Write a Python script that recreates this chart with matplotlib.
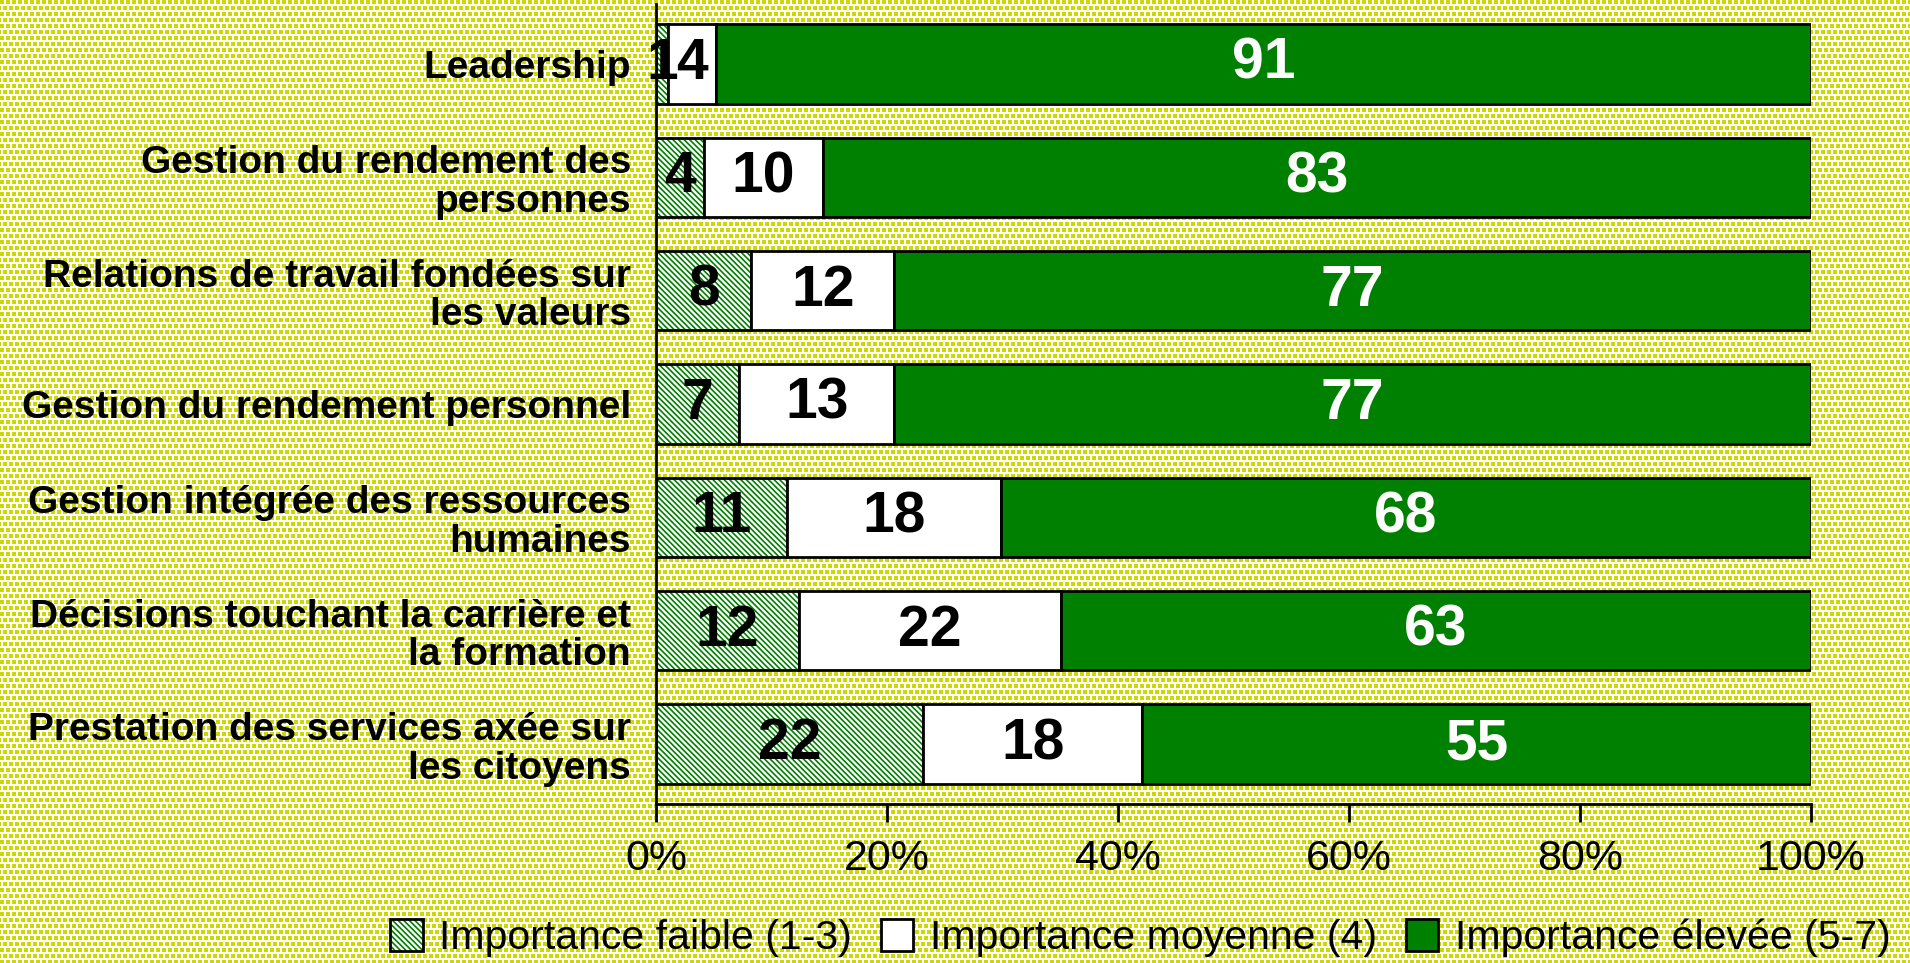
import matplotlib
matplotlib.use("Agg")
import matplotlib.pyplot as plt
from matplotlib.patches import Patch
from matplotlib.legend_handler import HandlerTuple
import numpy as np

plt.rcParams['font.family'] = ['Liberation Sans', 'DejaVu Sans']
plt.rcParams['hatch.linewidth'] = 1.2

categories = ["Leadership",
              "Gestion du rendement des\npersonnes",
              "Relations de travail fondées sur\nles valeurs",
              "Gestion du rendement personnel",
              "Gestion intégrée des ressources\nhumaines",
              "Décisions touchant la carrière et\nla formation",
              "Prestation des services axée sur\nles citoyens"]
low = [1, 4, 8, 7, 11, 12, 22]
mid = [4, 10, 12, 13, 18, 22, 18]
high = [91, 83, 77, 77, 68, 63, 55]
series_labels = ["Importance faible (1-3)", "Importance moyenne (4)", "Importance élevée (5-7)"]
xticks = [0, 20, 40, 60, 80, 100]

green = "#008000"
W, H = 1910, 963
fig = plt.figure(figsize=(W / 100, H / 100), dpi=100)

# dotted yellow paper texture behind everything
tex = np.ones((H, W, 3))
yy, xx = np.mgrid[0:H, 0:W]
shift = (yy // 6) % 2 * 3
dots = ((xx + shift) % 6 < 4) & (yy % 6 < 4)
tex[dots] = np.array([206, 216, 0]) / 255.0
fig.figimage(tex, xo=0, yo=0, zorder=-10)
fig.patch.set_alpha(0)

ax = fig.add_axes([0.3435, 0.165, 0.6045, 0.831])
ax.patch.set_alpha(0)

low_a = np.array(low, float)
mid_a = np.array(mid, float)
high_a = np.array(high, float)
tot = low_a + mid_a + high_a
lp = low_a / tot * 100
mp = mid_a / tot * 100
hp = high_a / tot * 100
y = np.arange(len(categories))
h = 0.7
hatch = "\\\\\\\\\\\\"

ax.barh(y, lp, h, color="white", edgecolor=green, hatch=hatch, linewidth=0)
ax.barh(y, lp, h, color="none", edgecolor="black", linewidth=2)
ax.barh(y, mp, h, left=lp, color="white", edgecolor="black", linewidth=2)
ax.barh(y, hp, h, left=lp + mp, color=green, edgecolor="black", linewidth=2)

for i in range(len(categories)):
    ax.text(lp[i] / 2, y[i], str(low[i]), ha="center", va="center",
            fontsize=41, fontweight="bold", color="black")
    ax.text(lp[i] + mp[i] / 2, y[i], str(mid[i]), ha="center", va="center",
            fontsize=41, fontweight="bold", color="black")
    ax.text(lp[i] + mp[i] + hp[i] / 2, y[i], str(high[i]), ha="center", va="center",
            fontsize=41, fontweight="bold", color="white")

ax.set_xlim(0, 100)
ax.set_ylim(6.53, -0.53)
ax.set_yticks(y)
ax.set_yticklabels(categories, fontsize=28, fontweight="bold", linespacing=1.1)
ax.tick_params(axis="y", length=0, pad=18)
ax.set_xticks(xticks)
ax.set_xticklabels([f"{t}%" for t in xticks], fontsize=31)
ax.tick_params(axis="x", length=13, width=2, direction="out", pad=12)
for s in ["top", "right"]:
    ax.spines[s].set_visible(False)
for s in ["left", "bottom"]:
    ax.spines[s].set_linewidth(2)

handles = [(Patch(facecolor="white", edgecolor=green, hatch=hatch, linewidth=0),
            Patch(facecolor="none", edgecolor="black", linewidth=2)),
           Patch(facecolor="white", edgecolor="black", linewidth=2),
           Patch(facecolor=green, edgecolor="black", linewidth=2)]
fig.legend(handles, series_labels, handler_map={tuple: HandlerTuple(ndivide=1, pad=0)},
           loc="center", bbox_to_anchor=(0.597, 0.026), ncol=3, frameon=False,
           fontsize=29.5, handlelength=0.8, handleheight=0.8, handletextpad=0.4,
           columnspacing=0.7, borderpad=0.2)

fig.savefig("out.png", dpi=100)
